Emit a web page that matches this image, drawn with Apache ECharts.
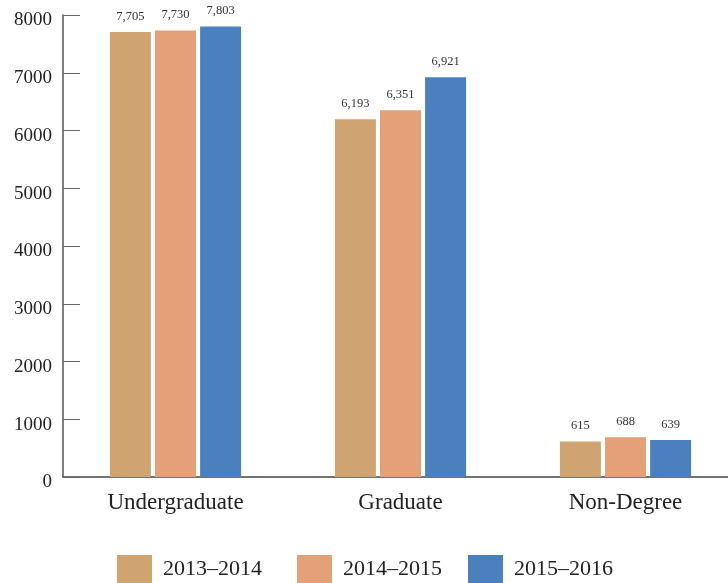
<!DOCTYPE html>
<html>
<head>
<meta charset="utf-8">
<script src="https://cdn.jsdelivr.net/npm/echarts@6/dist/echarts.min.js"></script>
<style>
  html, body { margin: 0; padding: 0; background: #fff; }
  #main { width: 728px; height: 583px; }
</style>
</head>
<body>
<div id="main"></div>
<script>
const categories = ['Undergraduate', 'Graduate', 'Non-Degree']
const years = ['2013–2014', '2014–2015', '2015–2016']
const values2013 = [7705, 6193, 615]
const values2014 = [7730, 6351, 688]
const values2015 = [7803, 6921, 639]
const colors = ['#CFA471', '#E4A177', '#4B80BE']

const serif = '"Liberation Serif", "DejaVu Serif", serif'
const seriesValues = [values2013, values2014, values2015]
// legend entries are not evenly spaced in the original, so one legend per year
const legendLeft = [117, 297, 468]

const myChart = echarts.init(document.getElementById('main'))

myChart.setOption({
  animation: false,
  color: colors,
  textStyle: { fontFamily: serif },
  // last category runs past the right edge in the original
  grid: { left: 63, width: 675, top: 15, bottom: 106, outerBoundsMode: 'none' },
  legend: years.map((name, i) => ({
    bottom: 0,
    left: legendLeft[i],
    padding: 0,
    itemWidth: 35,
    itemHeight: 28,
    icon: 'rect',
    textStyle: { fontFamily: serif, fontSize: 22, color: '#222', padding: [0, 0, 0, 6] },
    data: [name]
  })),
  xAxis: {
    type: 'category',
    data: categories,
    axisLine: { lineStyle: { color: '#444', width: 1.5 } },
    axisTick: { inside: true, length: 12, lineStyle: { color: '#333', width: 1.5 } },
    axisLabel: { fontFamily: serif, fontSize: 23, color: '#222', margin: 14 }
  },
  yAxis: {
    type: 'value',
    min: 0,
    max: 8000,
    interval: 1000,
    splitLine: { show: false },
    axisLine: { show: true, lineStyle: { color: '#555', width: 1.5 } },
    axisTick: { show: true, inside: true, length: 17, lineStyle: { color: '#666', width: 1 } },
    axisLabel: {
      fontFamily: serif, fontSize: 19, color: '#222', margin: 11,
      verticalAlign: 'top', lineHeight: 11,
      formatter: (v) => String(v)
    }
  },
  series: years.map((name, i) => ({
    name: name,
    type: 'bar',
    data: seriesValues[i],
    barWidth: 41,
    barGap: '10%',
    label: {
      show: true,
      position: 'top',
      distance: 9,
      fontFamily: serif,
      fontSize: 12.5,
      color: '#333',
      formatter: (p) => p.value.toLocaleString('en-US')
    }
  }))
})
</script>
</body>
</html>
